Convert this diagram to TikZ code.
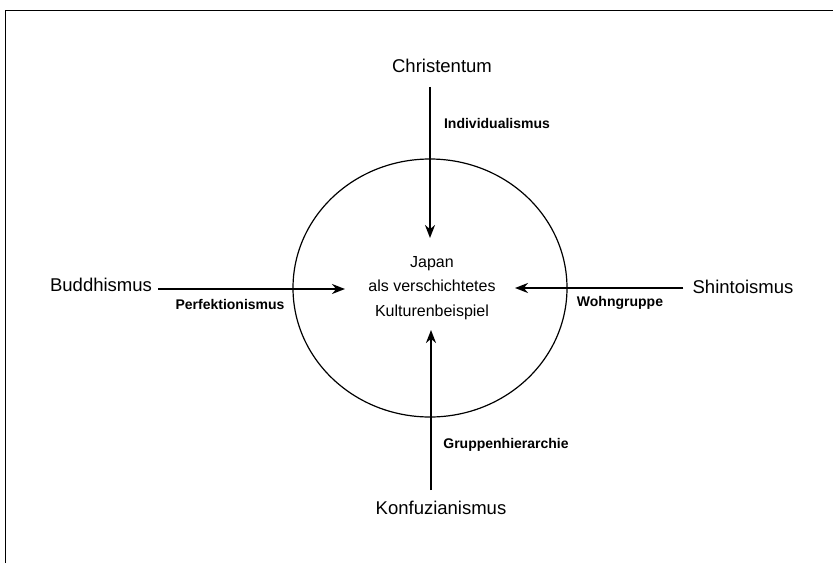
\documentclass[tikz,border=0pt]{standalone}
\usepackage{fontspec}
\setmainfont{Liberation Sans}
\usetikzlibrary{arrows.meta}
\begin{document}
\begin{tikzpicture}[x=1pt,y=-1pt,
  religion/.style={font=\fontsize{18.5}{22}\selectfont, inner sep=0pt},
  influence/.style={font=\bfseries\fontsize{14}{16}\selectfont, inner sep=0pt},
  flow/.style={line width=2.2pt, -{Stealth[length=13pt,width=10pt]}},
]
\useasboundingbox (0,0) rectangle (833,563);

% frame (top and left edge)
\draw[line width=1.1pt] (5.5,563) -- (5.5,10.5) -- (833,10.5);

% the culture as a circle
\draw[line width=1.2pt] (430,288) ellipse [x radius=137, y radius=129];
\node[align=center, font=\fontsize{16}{24.5}\selectfont] (japan) at (432,288)
  {Japan\\als verschichtetes\\Kulturenbeispiel};

% the four religions
\node[religion] (chr) at (442,66) {Christentum};
\node[religion] (bud) at (101,285) {Buddhismus};
\node[religion] (shi) at (743,287) {Shintoismus};
\node[religion] (kon) at (441,508) {Konfuzianismus};

% arrow tips near the centre
\coordinate (tipT) at (430,238);
\coordinate (tipB) at (431,330);
\coordinate (tipL) at (345,289);
\coordinate (tipR) at (515,288);

% influences
\draw[flow, shorten <=14pt] (chr.south -| tipT) -- (tipT);
\draw[flow, shorten <=11pt] (kon.north -| tipB) -- (tipB);
\draw[flow, shorten <=6pt] (bud.east |- tipL) -- (tipL);
\draw[flow, shorten <=9pt] (shi.west |- tipR) -- (tipR);

\node[influence] (ind) at (497,123) {Individualismus};
\node[influence] (gru) at (506,445) {Gruppenhierarchie};
\node[influence] (per) at (230,304) {Perfektionismus};
\node[influence] (woh) at (620,303) {Wohngruppe};
\end{tikzpicture}
\end{document}
